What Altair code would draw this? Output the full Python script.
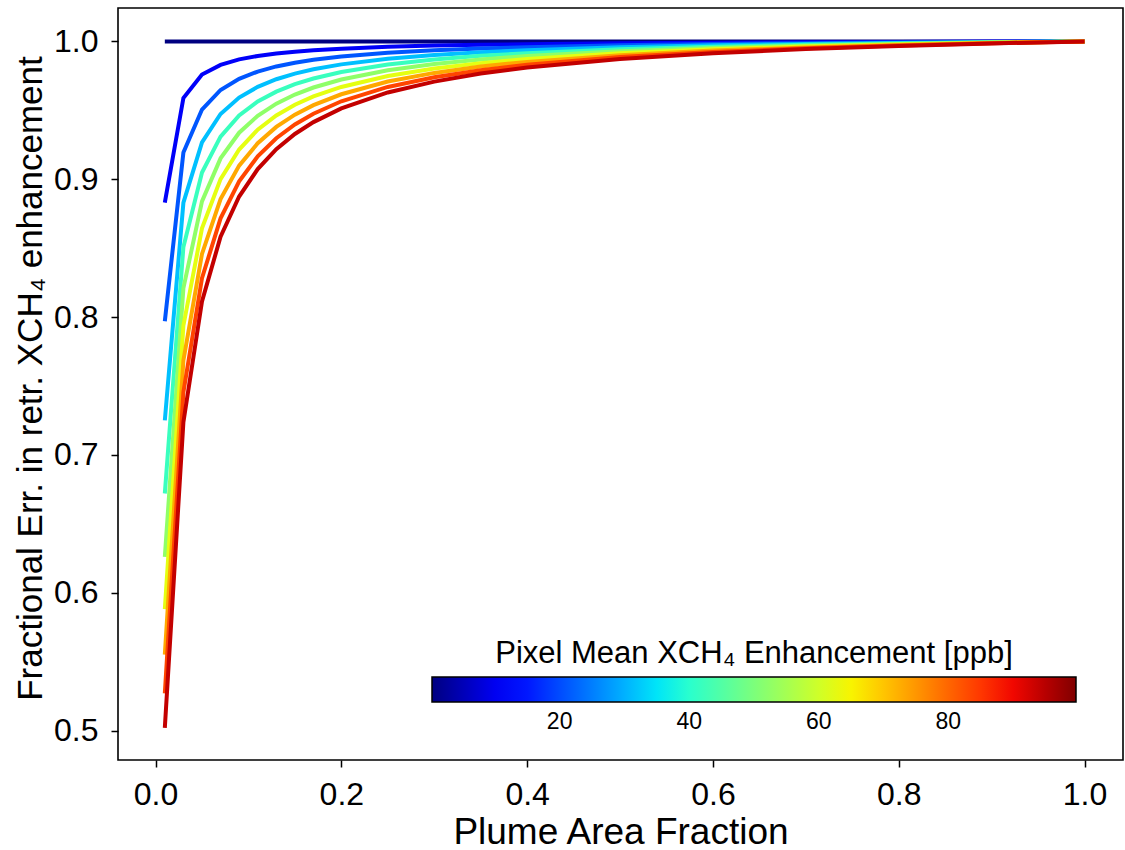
import altair as alt
import pandas as pd

# ---- data ----
plume_fraction = [0.01, 0.03, 0.05, 0.07, 0.09, 0.11, 0.13, 0.15, 0.17, 0.20,
                  0.25, 0.30, 0.35, 0.40, 0.50, 0.60, 0.70, 0.80, 0.90, 1.00]

enhancement_ppb = [0.3, 10.7, 21.1, 31.5, 41.9, 52.3, 62.7, 73.1, 83.5, 93.9]

err_00 = [1.0] * 20
err_10 = [0.883, 0.959, 0.976, 0.983, 0.987, 0.9895, 0.9913, 0.9926, 0.9936, 0.9948,
          0.9961, 0.9970, 0.9976, 0.9980, 0.9987, 0.9991, 0.9994, 0.9997, 0.9999, 1.0]
err_20 = [0.797, 0.9195, 0.9506, 0.9648, 0.9729, 0.9782, 0.9819, 0.9846, 0.9867, 0.9891,
          0.9918, 0.9936, 0.9949, 0.9959, 0.9972, 0.9982, 0.9988, 0.9993, 0.9997, 1.0]
err_30 = [0.725, 0.8830, 0.9268, 0.9474, 0.9593, 0.9671, 0.9726, 0.9767, 0.9798, 0.9834,
          0.9875, 0.9902, 0.9922, 0.9937, 0.9958, 0.9972, 0.9982, 0.9989, 0.9995, 1.0]
err_40 = [0.672, 0.8509, 0.9049, 0.9310, 0.9463, 0.9565, 0.9636, 0.9690, 0.9731, 0.9779,
          0.9833, 0.9869, 0.9896, 0.9915, 0.9943, 0.9962, 0.9976, 0.9986, 0.9994, 1.0]
err_50 = [0.626, 0.8210, 0.8840, 0.9152, 0.9338, 0.9461, 0.9549, 0.9615, 0.9666, 0.9724,
          0.9791, 0.9837, 0.9869, 0.9894, 0.9929, 0.9953, 0.9969, 0.9982, 0.9992, 1.0]
err_60 = [0.588, 0.7938, 0.8644, 0.9001, 0.9216, 0.9360, 0.9463, 0.9541, 0.9601, 0.9670,
          0.9750, 0.9804, 0.9843, 0.9873, 0.9915, 0.9943, 0.9963, 0.9979, 0.9990, 1.0]
err_70 = [0.555, 0.7686, 0.8458, 0.8856, 0.9099, 0.9262, 0.9380, 0.9469, 0.9538, 0.9617,
          0.9710, 0.9772, 0.9818, 0.9852, 0.9901, 0.9934, 0.9957, 0.9975, 0.9989, 1.0]
err_80 = [0.527, 0.7455, 0.8282, 0.8717, 0.8985, 0.9167, 0.9298, 0.9398, 0.9476, 0.9566,
          0.9670, 0.9741, 0.9792, 0.9831, 0.9887, 0.9924, 0.9951, 0.9971, 0.9987, 1.0]
err_90 = [0.502, 0.7238, 0.8114, 0.8583, 0.8875, 0.9074, 0.9219, 0.9329, 0.9415, 0.9514,
          0.9630, 0.9709, 0.9767, 0.9811, 0.9873, 0.9915, 0.9945, 0.9968, 0.9986, 1.0]

series = [err_00, err_10, err_20, err_30, err_40, err_50, err_60, err_70, err_80, err_90]

x_ticks = [0.0, 0.2, 0.4, 0.6, 0.8, 1.0]
y_ticks = [0.5, 0.6, 0.7, 0.8, 0.9, 1.0]
cbar_ticks = [20, 40, 60, 80]
cbar_min, cbar_max = 0.3, 99.7

# jet colormap stops
jet_pos = [0.0, 0.11, 0.125, 0.34, 0.35, 0.375, 0.64, 0.65, 0.66, 0.89, 0.91, 1.0]
jet_col = ["#000080", "#0000ff", "#0000ff", "#00dbff", "#00e6f7", "#15ffe2",
           "#efff08", "#f7f500", "#ffec00", "#ff1300", "#e80000", "#800000"]
jet_dom = [cbar_min + p * (cbar_max - cbar_min) for p in jet_pos]

rows = []
for i, (enh, ys) in enumerate(zip(enhancement_ppb, series)):
    for x, y in zip(plume_fraction, ys):
        rows.append({"frac": x, "err": y, "enh": enh, "idx": i})
df = pd.DataFrame(rows)

FONT = "Liberation Sans"

chart = alt.Chart(df).mark_line(strokeWidth=4, clip=True).encode(
    x=alt.X("frac:Q",
            scale=alt.Scale(domain=[-0.0404, 1.0414], nice=False, zero=False),
            axis=alt.Axis(title="Plume Area Fraction", values=x_ticks, format=".1f",
                          labelPadding=12, titleBaseline="alphabetic", titleY=83,
                          titleFontSize=37)),
    y=alt.Y("err:Q",
            scale=alt.Scale(domain=[0.4786, 1.0243], nice=False, zero=False),
            axis=alt.Axis(title="Fractional Err. in retr. XCH₄ enhancement",
                          values=y_ticks, format=".1f", labelPadding=13,
                          titleBaseline="alphabetic", titleX=-77, titleY=370)),
    color=alt.Color("enh:Q",
                    scale=alt.Scale(domain=jet_dom, range=jet_col, interpolate="rgb"),
                    legend=alt.Legend(
                        orient="none", legendX=314, legendY=631,
                        direction="horizontal", gradientLength=644,
                        gradientThickness=25, gradientStrokeColor="black",
                        gradientStrokeWidth=1.5,
                        title="Pixel Mean XCH₄ Enhancement [ppb]",
                        titleFontSize=31, titleFont=FONT, titleFontWeight="normal",
                        titleColor="black", titleAnchor="middle", titlePadding=7,
                        titleLimit=1000, labelLimit=200,
                        labelFontSize=23, labelFont=FONT, labelColor="black",
                        labelOffset=9, values=cbar_ticks, padding=0)),
    detail="idx:N",
    order="idx:Q",
).properties(
    width=1005, height=752,
    padding={"left": 118, "top": 8, "right": 2, "bottom": 90},
    autosize=alt.AutoSizeParams(type="none"),
).configure_view(
    stroke="black", strokeWidth=1.6
).configure_axis(
    domain=False, grid=False,
    ticks=True, tickSize=7, tickWidth=1.5, tickColor="black",
    labelFont=FONT, labelFontSize=32, labelColor="black",
    titleFont=FONT, titleFontSize=35, titleFontWeight="normal", titleColor="black",
)

chart.save("out.html", embed_options={"renderer": "svg", "actions": False})
